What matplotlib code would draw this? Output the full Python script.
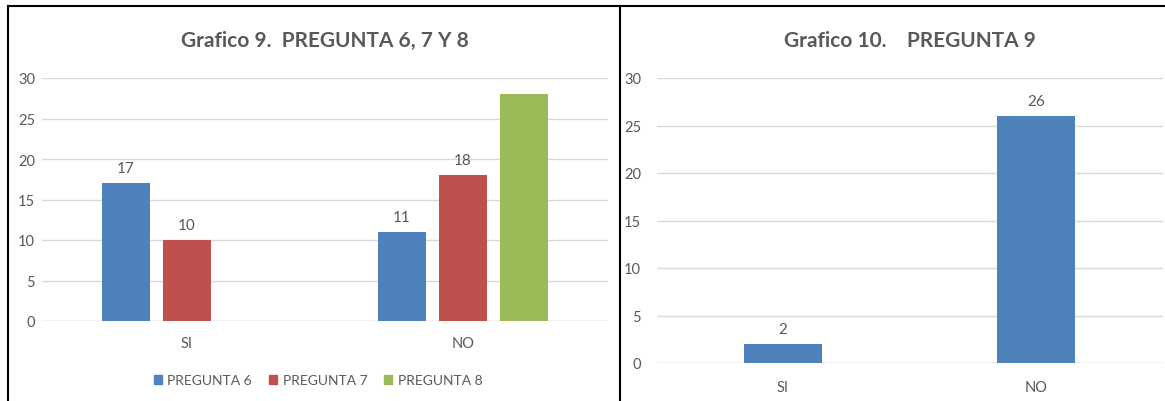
import matplotlib
matplotlib.use("Agg")
import matplotlib.pyplot as plt
from matplotlib.lines import Line2D
from matplotlib import font_manager
import numpy as np

names = {f.name for f in font_manager.fontManager.ttflist}
FONT = "Lato" if "Lato" in names else "Liberation Sans"
plt.rcParams["font.family"] = [FONT, "DejaVu Sans"]

# Data
categories = ["SI", "NO"]
series_names = ["PREGUNTA 6", "PREGUNTA 7", "PREGUNTA 8"]
pregunta6 = [17, 11]
pregunta7 = [10, 18]
pregunta8 = [0, 28]
pregunta9 = [2, 26]
yticks = [0, 5, 10, 15, 20, 25, 30]

colors = ["#4F81BD", "#C0504D", "#9BBB59"]
txt = "#595959"
grid = "#D9D9D9"

W, H = 1165, 402
fig = plt.figure(figsize=(W / 100, H / 100), dpi=100)

def style(ax, pad_y, pad_x):
    ax.set_ylim(0, 30)
    ax.set_yticks(yticks)
    for s in ax.spines.values():
        s.set_visible(False)
    ax.yaxis.grid(True, color=grid, linewidth=1)
    ax.set_axisbelow(True)
    ax.tick_params(axis="y", length=0, pad=pad_y, labelsize=10.5, labelcolor=txt)
    ax.tick_params(axis="x", length=0, pad=pad_x, labelsize=10.5, labelcolor=txt)
    ax.axhline(0, color=grid, linewidth=1, zorder=0.5)

# Left chart
ax1 = fig.add_axes([42 / W, 1 - 322 / H, 566 / W, 243 / H])
x = np.arange(len(categories))
bw = 0.174
off = 0.221
series = [pregunta6, pregunta7, pregunta8]
for i, (vals, c) in enumerate(zip(series, colors)):
    xs = x + (i - 1) * off
    ax1.bar(xs, vals, width=bw, color=c, label=series_names[i], zorder=2)
    for xi, v in zip(xs, vals):
        if v > 0 and i < 2:
            ax1.annotate(str(v), (xi, v), xytext=(0, 6), textcoords="offset points",
                         ha="center", va="bottom", fontsize=11, color=txt)
ax1.set_xlim(-0.525, 1.525)
ax1.set_xticks(x)
ax1.set_xticklabels(categories)
style(ax1, 5, 11)
ax1.set_title("Grafico 9.  PREGUNTA 6, 7 Y 8", fontsize=15, fontweight="bold",
              color=txt, pad=23)
handles = [plt.Rectangle((0, 0), 1, 1, color=c) for c in colors]
fig.legend(handles, series_names, loc="center", bbox_to_anchor=(318 / W, 1 - 381 / H),
           ncol=3, frameon=False, fontsize=10, labelcolor=txt, handlelength=0.6,
           handleheight=0.6, handletextpad=0.4, columnspacing=1.2)

# Right chart
ax2 = fig.add_axes([656.5 / W, 1 - 364 / H, 506 / W, 285 / H])
ax2.bar(x, pregunta9, width=0.31, color=colors[0], zorder=2)
for xi, v in zip(x, pregunta9):
    ax2.annotate(str(v), (xi, v), xytext=(0, 6), textcoords="offset points",
                 ha="center", va="bottom", fontsize=11, color=txt)
ax2.set_xlim(-0.5, 1.5)
ax2.set_xticks(x)
ax2.set_xticklabels(categories)
style(ax2, 11, 12)
ax2.set_title("Grafico 10.    PREGUNTA 9", fontsize=15, fontweight="bold",
              color=txt, pad=23)

# Panel borders
def fl(x0, y0, x1, y1, lw=1.5):
    fig.add_artist(Line2D([x0 / W, x1 / W], [1 - y0 / H, 1 - y1 / H],
                          color="black", linewidth=lw))
fl(8, 7, W, 7)
fl(8, 7, 8, H)
fl(620, 7, 620, H)

fig.savefig("out.png", dpi=100)
